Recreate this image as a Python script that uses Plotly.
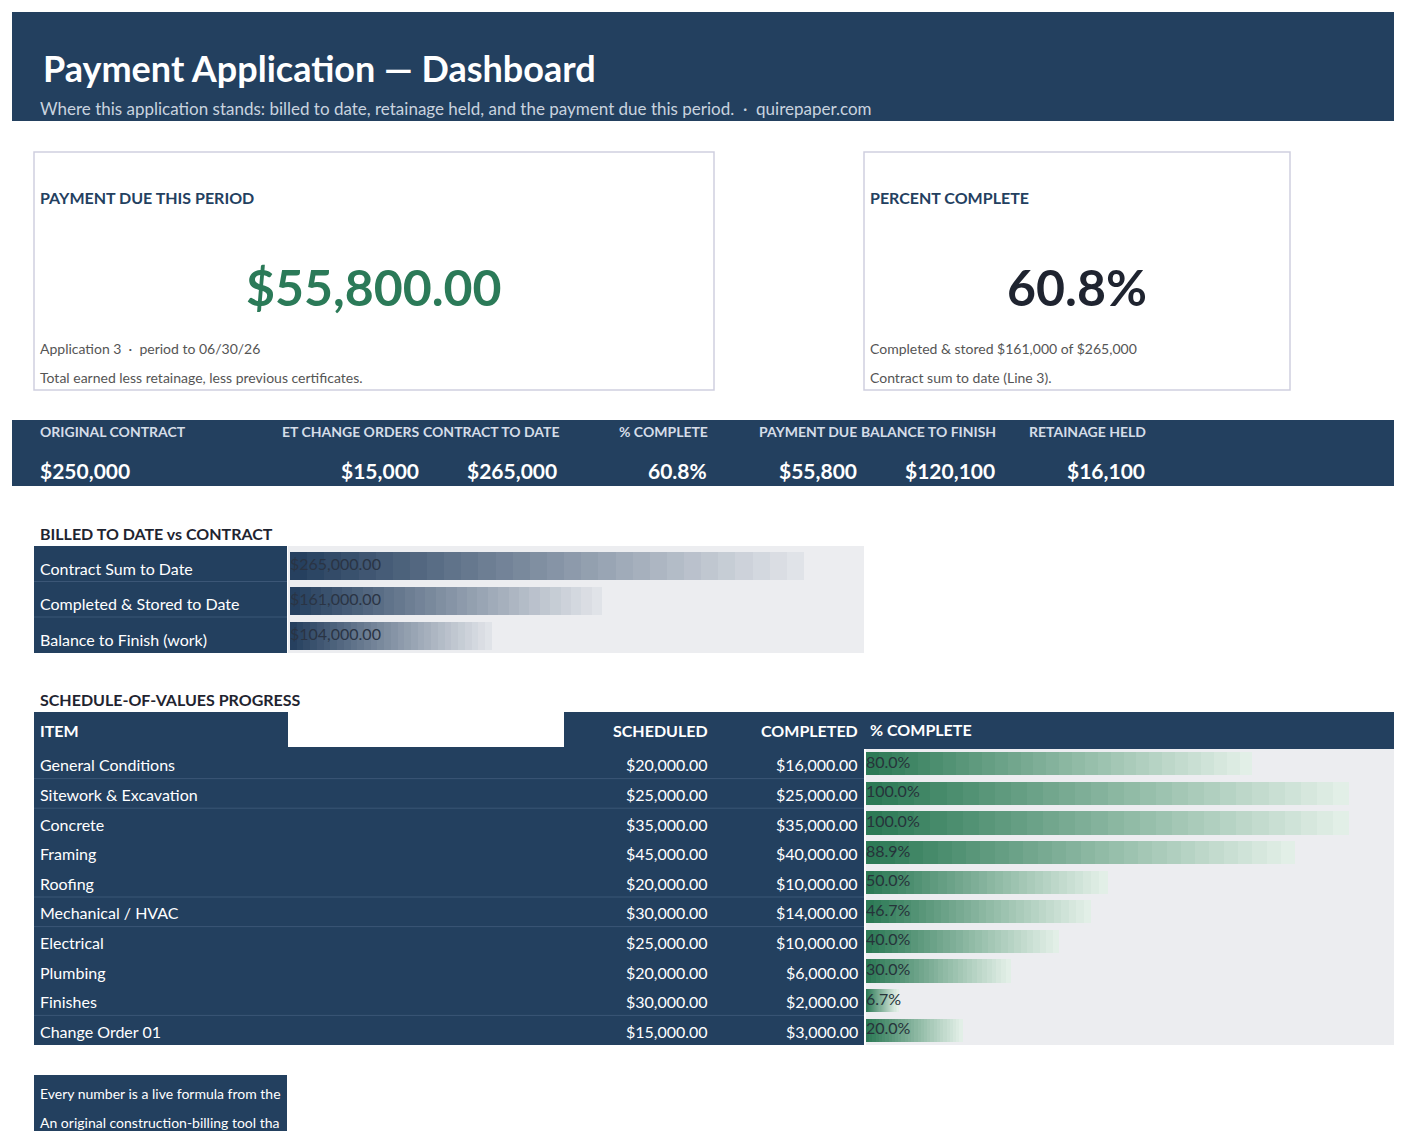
import plotly.graph_objects as go

W, H = 1402, 1131
NAVY = "#23405f"
FONT = "Lato, Roboto, sans-serif"

# ---- data ----
kpi_labels = ["ORIGINAL CONTRACT", "ET CHANGE ORDERS", "CONTRACT TO DATE", "% COMPLETE",
              "PAYMENT DUE", "BALANCE TO FINISH", "RETAINAGE HELD"]
kpi_values = ["$250,000", "$15,000", "$265,000", "60.8%", "$55,800", "$120,100", "$16,100"]

billed_labels = ["Contract Sum to Date", "Completed & Stored to Date", "Balance to Finish (work)"]
billed_values = [265000, 161000, 104000]

sov_items = ["General Conditions", "Sitework & Excavation", "Concrete", "Framing", "Roofing",
             "Mechanical / HVAC", "Electrical", "Plumbing", "Finishes", "Change Order 01"]
sov_scheduled = [20000, 25000, 35000, 45000, 20000, 30000, 25000, 20000, 30000, 15000]
sov_completed = [16000, 25000, 35000, 40000, 10000, 14000, 10000, 6000, 2000, 3000]
sov_pct = [c / s for c, s in zip(sov_completed, sov_scheduled)]


def px(x):
    return x / W


def py(y):
    return 1 - y / H


shapes = []
ann = []


def rect(x0, y0, x1, y1, fill=None, line=None, lw=1.5):
    shapes.append(dict(type="rect", xref="paper", yref="paper", x0=px(x0), x1=px(x1), y0=py(y1), y1=py(y0),
                       fillcolor=fill or "rgba(0,0,0,0)", line=dict(color=line or "rgba(0,0,0,0)", width=lw if line else 0),
                       layer="below"))


def hline(x0, x1, y, color="#3b5676"):
    shapes.append(dict(type="line", xref="paper", yref="paper", x0=px(x0), x1=px(x1), y0=py(y), y1=py(y),
                       line=dict(color=color, width=1), layer="below"))


def text(x, y, s, size=16, color="white", bold=False, anchor="left"):
    if bold:
        s = f"<b>{s}</b>"
    ann.append(dict(xref="paper", yref="paper", x=px(x), y=py(y), text=s, showarrow=False,
                    xanchor=anchor, yanchor="middle", font=dict(size=size, color=color, family=FONT)))


def blend(c1, c2, t):
    a = [int(c1[i:i + 2], 16) for i in (1, 3, 5)]
    b = [int(c2[i:i + 2], 16) for i in (1, 3, 5)]
    return "rgb(%d,%d,%d)" % tuple(round(a[k] + (b[k] - a[k]) * t) for k in range(3))


# header
rect(4, 4, 1397, 113, NAVY)
text(33, 60, "Payment Application — Dashboard", 36, "white", True)
text(30, 101, "Where this application stands: billed to date, retainage held, and the payment due this period.  ·  quirepaper.com", 17, "#c9d3df")

# KPI cards
rect(26, 144, 706, 382, "white", "#cfcfe0")
text(30, 190, "PAYMENT DUE THIS PERIOD", 16, NAVY, True)
text(366, 279, "$55,800.00", 50, "#2b7a58", True, "center")
text(30, 340, "Application 3  ·  period to 06/30/26", 14, "#555")
text(30, 370, "Total earned less retainage, less previous certificates.", 14, "#555")
rect(856, 144, 1282, 382, "white", "#cfcfe0")
text(860, 190, "PERCENT COMPLETE", 16, NAVY, True)
text(1069, 279, "60.8%", 50, "#1f2430", True, "center")
text(860, 340, "Completed & stored $161,000 of $265,000", 14, "#555")
text(860, 370, "Contract sum to date (Line 3).", 14, "#555")

# summary band
rect(4, 412, 1397, 478, NAVY)
hdr_x = [30, 414, 553, 702, 851, 990, 1140]
val_x = [30, 413, 551, 701, 851, 989, 1139]
for i, (lab, val) in enumerate(zip(kpi_labels, kpi_values)):
    a = "left" if i == 0 else "right"
    text(hdr_x[i], 423, lab, 14, "#d5dde8", True, a)
    text(val_x[i], 463, val, 21, "white", True, a)

# billed section
text(30, 525, "BILLED TO DATE vs CONTRACT", 16, "#1f2430", True)
rect(26, 538, 279, 645, NAVY)
rect(280, 538, 856, 645, "#ecedf0")
for i, lab in enumerate(billed_labels):
    text(30, 560 + i * 35.5, lab, 16, "white")
    if i:
        hline(26, 279, 538 + i * 35.5)

# SOV section
text(30, 691, "SCHEDULE-OF-VALUES PROGRESS", 16, "#1f2430", True)
rect(26, 704, 1397, 741, NAVY)
rect(280, 704, 556, 739, "white")
text(30, 722, "ITEM", 16, "white", True)
text(702, 722, "SCHEDULED", 16, "white", True, "right")
text(852, 722, "COMPLETED", 16, "white", True, "right")
text(860, 721, "% COMPLETE", 16, "white", True)
rect(26, 741, 856, 1037, NAVY)
rect(858, 741, 1397, 1037, "#ecedf0")
rh = 296 / 10
for i, item in enumerate(sov_items):
    yc = 741 + rh * (i + 0.5) + 1
    text(30, yc, item, 16, "white")
    text(702, yc, f"${sov_scheduled[i]:,.2f}", 16, "white", anchor="right")
    text(852, yc, f"${sov_completed[i]:,.2f}", 16, "white", anchor="right")
    if i in (1, 2, 5, 6, 9):
        hline(26, 856, 741 + rh * i)

# footer
rect(26, 1067, 279, 1126, NAVY)
text(30, 1085, "Every number is a live formula from the", 14, "white")
text(30, 1114, "An original construction-billing tool tha", 14, "white")

fig = go.Figure()
N = 30

# billed bars: gradient by stacked slices
for k in range(N):
    fig.add_trace(go.Bar(
        y=billed_labels, x=[v / N for v in billed_values], orientation="h",
        marker=dict(color=blend("#26405f", "#e0e3e8", k / (N - 1)), line=dict(width=0)),
        xaxis="x", yaxis="y", hoverinfo="skip", showlegend=False, width=0.8))
fig.add_trace(go.Scatter(
    y=billed_labels, x=[0] * 3, mode="text", text=[f"${v:,.2f}" for v in billed_values],
    textposition="middle right", textfont=dict(size=16, color="#2a3444", family=FONT),
    xaxis="x", yaxis="y", hoverinfo="skip", showlegend=False))

# SOV bars
for k in range(N):
    fig.add_trace(go.Bar(
        y=sov_items, x=[p / N for p in sov_pct], orientation="h",
        marker=dict(color=blend("#2d7a56", "#e2efe7", k / (N - 1)), line=dict(width=0)),
        xaxis="x2", yaxis="y2", hoverinfo="skip", showlegend=False, width=0.78))
fig.add_trace(go.Scatter(
    y=sov_items, x=[0] * len(sov_items), mode="text", text=[f"{p * 100:.1f}%" for p in sov_pct],
    textposition="middle right", textfont=dict(size=16, color="#26333a", family=FONT),
    xaxis="x2", yaxis="y2", hoverinfo="skip", showlegend=False))

ax_off = dict(showgrid=False, zeroline=False, showticklabels=False, showline=False, fixedrange=True)
fig.update_layout(
    width=W, height=H, margin=dict(l=0, r=0, t=0, b=0),
    paper_bgcolor="white", plot_bgcolor="rgba(0,0,0,0)",
    barmode="stack", bargap=0.2,
    shapes=shapes, annotations=ann,
    xaxis=dict(domain=[px(282), px(856)], range=[0, 265000 * 574 / 514], **ax_off),
    yaxis=dict(domain=[py(645), py(540)], autorange="reversed", type="category", **ax_off),
    xaxis2=dict(domain=[px(858), px(1397)], range=[0, 539 / 483], anchor="y2", **ax_off),
    yaxis2=dict(domain=[py(1037), py(741)], autorange="reversed", type="category", anchor="x2", **ax_off),
    font=dict(family=FONT),
)

fig.write_html("out.html")
